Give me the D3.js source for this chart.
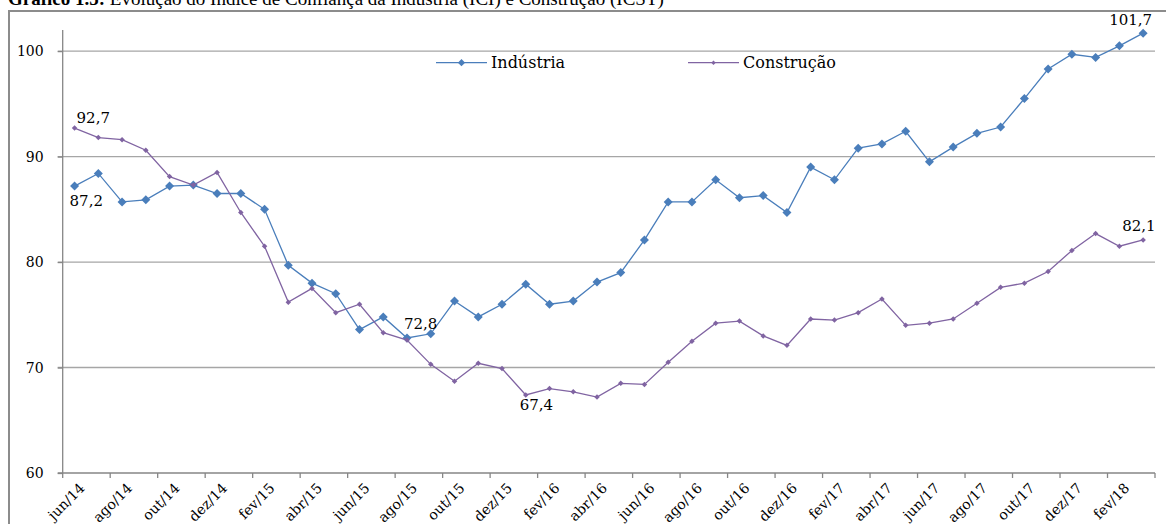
<!DOCTYPE html>
<html>
<head>
<meta charset="utf-8">
<script src="https://cdn.jsdelivr.net/npm/d3@7"></script>
<style>
  html, body { margin: 0; padding: 0; background: #fff; }
  svg { display: block; }
</style>
</head>
<body>
<svg id="chart" width="1166" height="524"></svg>
<script>
// ---- data ----
const months = [
  "jun/14","jul/14","ago/14","set/14","out/14","nov/14","dez/14",
  "jan/15","fev/15","mar/15","abr/15","mai/15","jun/15","jul/15","ago/15","set/15","out/15","nov/15","dez/15",
  "jan/16","fev/16","mar/16","abr/16","mai/16","jun/16","jul/16","ago/16","set/16","out/16","nov/16","dez/16",
  "jan/17","fev/17","mar/17","abr/17","mai/17","jun/17","jul/17","ago/17","set/17","out/17","nov/17","dez/17",
  "jan/18","fev/18","mar/18"
];
const industria = [
  87.2, 88.4, 85.7, 85.9, 87.2, 87.3, 86.5, 86.5, 85.0, 79.7, 78.0, 77.0, 73.6, 74.8, 72.8, 73.2,
  76.3, 74.8, 76.0, 77.9, 76.0, 76.3, 78.1, 79.0, 82.1, 85.7, 85.7, 87.8, 86.1, 86.3, 84.7,
  89.0, 87.8, 90.8, 91.2, 92.4, 89.5, 90.9, 92.2, 92.8, 95.5, 98.3, 99.7, 99.4, 100.5, 101.7
];
const construcao = [
  92.7, 91.8, 91.6, 90.6, 88.1, 87.3, 88.5, 84.7, 81.5, 76.2, 77.5, 75.2, 76.0, 73.3, 72.6, 70.3,
  68.7, 70.4, 69.9, 67.4, 68.0, 67.7, 67.2, 68.5, 68.4, 70.5, 72.5, 74.2, 74.4, 73.0, 72.1,
  74.6, 74.5, 75.2, 76.5, 74.0, 74.2, 74.6, 76.1, 77.6, 78.0, 79.1, 81.1, 82.7, 81.5, 82.1
];
const yTicks = [60, 70, 80, 90, 100];
const seriesNames = ["Indústria", "Construção"];
const title = ["Gráfico 1.5:", " Evolução do Índice de Confiança da Indústria (ICI) e Construção (ICST)"];
// labelled points: [series index, month index]
const labelled = [[0, 0], [1, 0], [0, 14], [1, 19], [0, 45], [1, 45]];

// ---- layout ----
const svg = d3.select("#chart");
const pLeft = 62.7, pRight = 1155, pTop = 30, pBottom = 473;
const fontSerif = "'DejaVu Serif', serif";
const gridCol = "#a6a6a6", axisCol = "#868686";
const colors = ["#4a7ebb", "#8064a2"];

const x = d3.scaleBand().domain(months).range([pLeft, pRight]).padding(0);
const y = d3.scaleLinear().domain([60, 102]).range([pBottom, pTop]);
const cx = m => x(m) + x.bandwidth() / 2;

// title (cut off at top, as in the original)
const t = svg.append("text").attr("x", 8).attr("y", 5)
  .attr("font-family", "'Liberation Serif', serif").attr("font-size", 19).attr("fill", "#000");
t.append("tspan").attr("font-weight", "bold").text(title[0]);
t.append("tspan").text(title[1]);

// outer frame
svg.append("rect").attr("x", 9).attr("y", 11).attr("width", 1200).attr("height", 600)
  .attr("fill", "none").attr("stroke", "#8c8c8c").attr("stroke-width", 2);

// gridlines
svg.append("g").selectAll("line").data(yTicks.filter(v => v > 60)).join("line")
  .attr("x1", pLeft - 5).attr("x2", pRight)
  .attr("y1", d => y(d)).attr("y2", d => y(d))
  .attr("stroke", gridCol).attr("stroke-width", 1.3);

// y axis
const yAxis = d3.axisLeft(y).tickValues(yTicks).tickSize(5).tickPadding(14).tickFormat(d3.format("d"));
const gy = svg.append("g").attr("transform", `translate(${pLeft},0)`).call(yAxis);
gy.select(".domain").remove();
gy.append("line").attr("x1", 0).attr("x2", 0).attr("y1", pTop).attr("y2", pBottom)
  .attr("stroke", axisCol).attr("stroke-width", 1.3);
gy.selectAll(".tick line").attr("stroke", axisCol).attr("stroke-width", 1.3);
gy.selectAll(".tick text").attr("font-family", fontSerif).attr("font-size", 14).attr("fill", "#000");

// x axis
const gx = svg.append("g");
gx.append("line").attr("x1", pLeft - 5).attr("x2", pRight).attr("y1", pBottom).attr("y2", pBottom)
  .attr("stroke", axisCol).attr("stroke-width", 1.3);
const tickPos = months.filter((m, i) => i % 2 === 0).map(m => x(m)).concat([pRight]);
gx.selectAll("line.tk").data(tickPos).join("line").attr("class", "tk")
  .attr("x1", d => d).attr("x2", d => d).attr("y1", pBottom).attr("y2", pBottom + 5)
  .attr("stroke", axisCol).attr("stroke-width", 1.3);
gx.selectAll("text").data(months.filter((m, i) => i % 2 === 0)).join("text")
  .attr("transform", d => `translate(${cx(d) + 4},${pBottom + 9}) rotate(-45)`)
  .attr("text-anchor", "end").attr("dy", "0.71em")
  .attr("font-family", fontSerif).attr("font-size", 14).attr("fill", "#000")
  .text(d => d);

// series
const allSeries = [industria, construcao];
const markerSize = [9, 5.5];
const lineW = [1.3, 1.3];
allSeries.forEach((vals, si) => {
  const line = d3.line().x((d, i) => cx(months[i])).y(d => y(d));
  svg.append("path").datum(vals).attr("d", line)
    .attr("fill", "none").attr("stroke", colors[si]).attr("stroke-width", lineW[si]);
  const s = markerSize[si];
  svg.append("g").selectAll("path").data(vals).join("path")
    .attr("d", `M0,${-s/2}L${s/2},0L0,${s/2}L${-s/2},0Z`)
    .attr("transform", (d, i) => `translate(${cx(months[i])},${y(d)})`)
    .attr("fill", colors[si]);
});

// data labels
const labelOffsets = {
  "0-0": [-5, 20, "start"], "1-0": [2, -5, "start"],
  "0-14": [-3, -9, "start"], "1-19": [-6, 15, "start"],
  "0-45": [9, -8, "end"], "1-45": [-21, -9, "start"]
};
const fmt = v => v.toFixed(1).replace(".", ",");
svg.append("g").selectAll("text").data(labelled).join("text")
  .attr("x", d => cx(months[d[1]]) + labelOffsets[d.join("-")][0])
  .attr("y", d => y(allSeries[d[0]][d[1]]) + labelOffsets[d.join("-")][1])
  .attr("text-anchor", d => labelOffsets[d.join("-")][2])
  .attr("font-family", fontSerif).attr("font-size", 15).attr("fill", "#000")
  .text(d => fmt(allSeries[d[0]][d[1]]));

// legend
const legX = [436, 688], legY = 62.7;
seriesNames.forEach((name, si) => {
  const g = svg.append("g").attr("transform", `translate(${legX[si]},${legY})`);
  g.append("line").attr("x1", 0).attr("x2", 51).attr("y1", 0).attr("y2", 0)
    .attr("stroke", colors[si]).attr("stroke-width", lineW[si]);
  const s = markerSize[si] * 0.8;
  g.append("path").attr("d", `M25.5,${-s/2}L${25.5 + s/2},0L25.5,${s/2}L${25.5 - s/2},0Z`).attr("fill", colors[si]);
  g.append("text").attr("x", 55).attr("y", 5).attr("font-family", fontSerif)
    .attr("font-size", 16).attr("fill", "#000").text(name);
});
</script>
</body>
</html>
